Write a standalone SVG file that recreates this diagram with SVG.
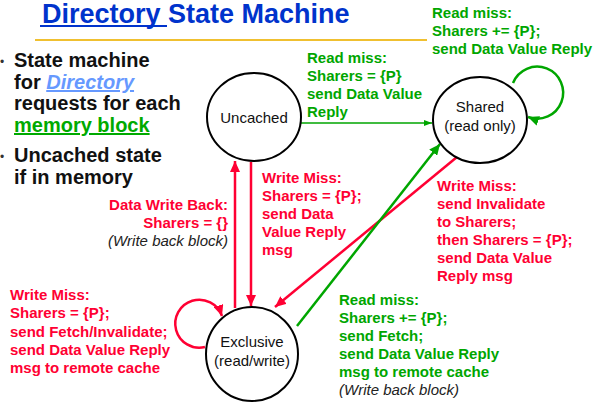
<svg xmlns="http://www.w3.org/2000/svg" width="596" height="403" viewBox="0 0 596 403">
<style>
text{font-family:"Liberation Sans",Arial,sans-serif}
.title{font-size:27px;font-weight:bold;fill:#0033CC}
.bul{font-size:20px;font-weight:bold;fill:#111}
.lbl{font-size:15px;font-weight:bold}
.red{fill:#FF0033}
.grn{fill:#00A600}
.it{font-size:15px;font-style:italic;fill:#222}
.node ellipse{fill:#fff;stroke:#000;stroke-width:2}
.node text{font-size:15px;fill:#111;text-anchor:middle}
.er{stroke:#FF0033;stroke-width:2.5;fill:none}
.eg{stroke:#00A600;stroke-width:2.5;fill:none}
</style>
<defs>
<marker id="ar" markerUnits="userSpaceOnUse" markerWidth="12" markerHeight="10" refX="11" refY="5" orient="auto"><path d="M0,0 L11,5 L0,10 z" fill="#FF0033"/></marker>
<marker id="ag" markerUnits="userSpaceOnUse" markerWidth="12" markerHeight="10" refX="11" refY="5" orient="auto"><path d="M0,0 L11,5 L0,10 z" fill="#00A600"/></marker>
<marker id="ags" markerUnits="userSpaceOnUse" markerWidth="8" markerHeight="6" refX="8" refY="3" orient="auto"><path d="M0,0 L8,3 L0,6 z" fill="#00A600"/></marker>
</defs>
<rect width="596" height="403" fill="#fff"/>
<g id="title">
<text class="title" x="42" y="23">Directory State Machine</text>
<line x1="40" y1="26" x2="167" y2="26" stroke="#0033CC" stroke-width="2"/>
<line x1="35" y1="40" x2="427" y2="40" stroke="#F0C030" stroke-width="2"/>
</g>
<g id="bullets">
<text x="0" y="66" style="font-size:12px;fill:#333">•</text>
<text x="0" y="161" style="font-size:12px;fill:#333">•</text>
<text class="bul" x="14" y="67">State machine</text>
<text class="bul" x="14" y="89">for <tspan style="font-style:italic;fill:#6699FF;text-decoration:underline">Directory</tspan></text>
<text class="bul" x="14" y="110">requests for each</text>
<text class="bul" x="14" y="132" style="fill:#00AA00;text-decoration:underline">memory block</text>
<text class="bul" x="14" y="162">Uncached state</text>
<text class="bul" x="14" y="184">if in memory</text>
</g>
<g id="connectors">
<line class="eg" x1="301" y1="123" x2="432" y2="123" style="stroke-width:1.5" marker-end="url(#ags)"/>
<path class="eg" d="M513,83 A26,26 0 1 1 528,117" marker-end="url(#ag)"/>
<line class="er" x1="251" y1="162" x2="251" y2="306" marker-end="url(#ar)"/>
<line class="er" x1="235" y1="308" x2="235" y2="161" marker-end="url(#ar)"/>
<line class="er" x1="457" y1="157" x2="275" y2="307" marker-end="url(#ar)"/>
<line class="eg" x1="297" y1="326" x2="440" y2="144" marker-end="url(#ag)"/>
<path class="er" d="M205,347 A24,24 0 1 1 222,316" marker-end="url(#ar)"/>
</g>
<g id="uncached" class="node">
<ellipse cx="254" cy="117" rx="47" ry="44"/>
<text x="254" y="123">Uncached</text>
</g>
<g id="shared" class="node">
<ellipse cx="480" cy="120" rx="47" ry="43"/>
<text x="480" y="112">Shared</text>
<text x="480" y="131">(read only)</text>
</g>
<g id="exclusive" class="node">
<ellipse cx="252" cy="354" rx="46" ry="47"/>
<text x="252" y="347">Exclusive</text>
<text x="252" y="366">(read/write)</text>
</g>
<g id="labels">
<text class="lbl grn" x="432"><tspan x="432" y="18">Read miss:</tspan><tspan x="432" y="36">Sharers += {P};</tspan><tspan x="432" y="54">send Data Value Reply</tspan></text>
<text class="lbl grn"><tspan x="307" y="63">Read miss:</tspan><tspan x="307" y="81">Sharers = {P}</tspan><tspan x="307" y="99">send Data Value</tspan><tspan x="307" y="117">Reply</tspan></text>
<text class="lbl red"><tspan x="262" y="183">Write Miss:</tspan><tspan x="262" y="201">Sharers = {P};</tspan><tspan x="262" y="219">send Data</tspan><tspan x="262" y="237">Value Reply</tspan><tspan x="262" y="255">msg</tspan></text>
<text class="lbl red"><tspan x="437" y="191">Write Miss:</tspan><tspan x="437" y="209">send Invalidate</tspan><tspan x="437" y="227">to Sharers;</tspan><tspan x="437" y="245">then Sharers = {P};</tspan><tspan x="437" y="263">send Data Value</tspan><tspan x="437" y="281">Reply msg</tspan></text>
<text class="lbl grn"><tspan x="339" y="305">Read miss:</tspan><tspan x="339" y="323">Sharers += {P};</tspan><tspan x="339" y="341">send Fetch;</tspan><tspan x="339" y="359">send Data Value Reply</tspan><tspan x="339" y="377">msg to remote cache</tspan></text>
<text class="it" x="339" y="395">(Write back block)</text>
<text class="lbl red" text-anchor="end"><tspan x="228" y="210">Data Write Back:</tspan><tspan x="228" y="228">Sharers = {}</tspan></text>
<text class="it" x="228" y="246" text-anchor="end">(Write back block)</text>
<text class="lbl red"><tspan x="10" y="300">Write Miss:</tspan><tspan x="10" y="318">Sharers = {P};</tspan><tspan x="10" y="337">send Fetch/Invalidate;</tspan><tspan x="10" y="355">send Data Value Reply</tspan><tspan x="10" y="373">msg to remote cache</tspan></text>
</g>
</svg>
